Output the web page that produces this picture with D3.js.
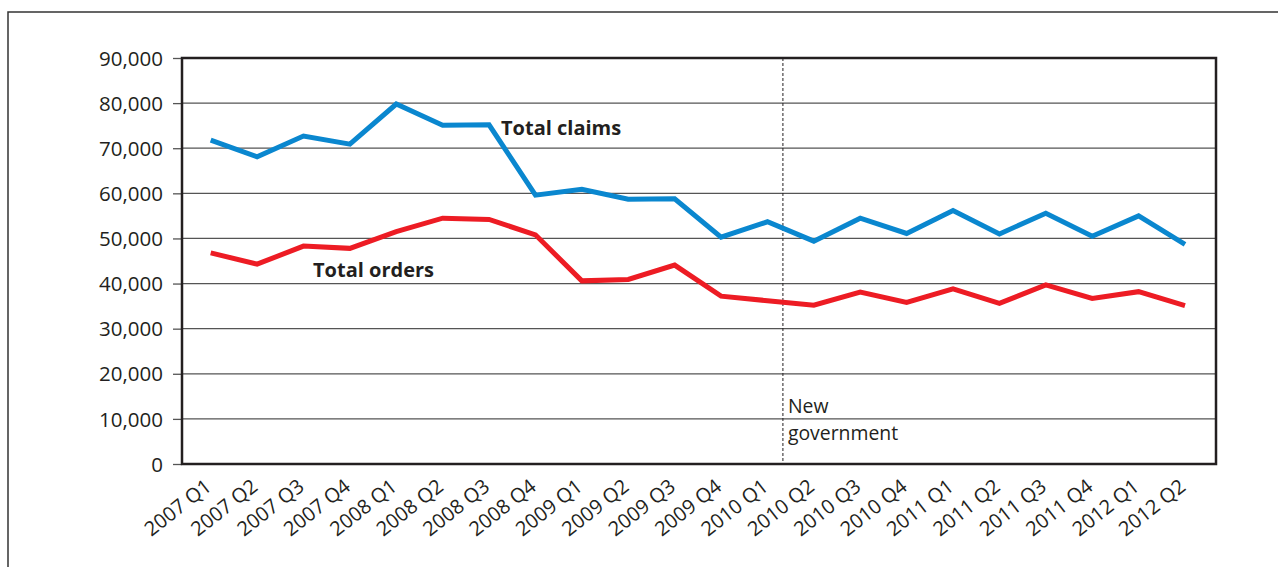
<!DOCTYPE html>
<html lang="en">
<head>
    <meta charset="UTF-8">
    <title>Total claims and orders</title>
    <script src="https://cdn.jsdelivr.net/npm/d3@7/dist/d3.min.js"></script>
    <style>
        body { margin: 0; background: #fff; }
        svg { width: 1278px; height: 567px; display: block; }
        text { font-family: "Open Sans", sans-serif; fill: #231f20; }
    </style>
</head>
<body>
    <svg></svg>

    <script>
        const quarters = [
            '2007 Q1', '2007 Q2', '2007 Q3', '2007 Q4',
            '2008 Q1', '2008 Q2', '2008 Q3', '2008 Q4',
            '2009 Q1', '2009 Q2', '2009 Q3', '2009 Q4',
            '2010 Q1', '2010 Q2', '2010 Q3', '2010 Q4',
            '2011 Q1', '2011 Q2', '2011 Q3', '2011 Q4',
            '2012 Q1', '2012 Q2'
        ];
        const totalClaims = [
            71800, 68100, 72700, 70900,
            79800, 75100, 75200, 59600,
            60900, 58700, 58800, 50300,
            53700, 49400, 54500, 51100,
            56200, 51000, 55600, 50500,
            55000, 48700
        ];
        const totalOrders = [
            46800, 44300, 48300, 47800,
            51500, 54500, 54200, 50800,
            40600, 40900, 44100, 37200,
            36200, 35200, 38100, 35800,
            38800, 35600, 39700, 36700,
            38200, 35100
        ];
        const yTicks = [0, 10000, 20000, 30000, 40000, 50000, 60000, 70000, 80000, 90000];

        const svg = d3.select('svg');

        // outer frame, runs off the picture on the right and bottom
        svg.append('rect')
            .attr('x', 8).attr('y', 12)
            .attr('width', 1300).attr('height', 600)
            .attr('fill', 'none')
            .attr('stroke', '#333')
            .attr('stroke-width', 1.5);

        const plot = { left: 182, right: 1216, top: 58, bottom: 464 };

        const x = d3.scalePoint()
            .domain(quarters)
            .range([plot.left + 28.7, plot.right - 31]);

        const y = d3.scaleLinear()
            .domain([0, 90000])
            .range([plot.bottom, plot.top]);

        // gridlines
        svg.append('g')
            .selectAll('line')
            .data(yTicks.slice(1))
            .enter().append('line')
            .attr('x1', plot.left).attr('x2', plot.right)
            .attr('y1', d => y(d)).attr('y2', d => y(d))
            .attr('stroke', '#555')
            .attr('stroke-width', 1.3);

        // y axis
        const yAxis = svg.append('g')
            .attr('transform', `translate(${plot.left}, 0)`)
            .call(d3.axisLeft(y).tickValues(yTicks).tickFormat(d3.format(',')).tickSize(9).tickPadding(10));
        yAxis.select('.domain').remove();
        yAxis.selectAll('.tick line').attr('stroke', '#555').attr('stroke-width', 1.3);
        yAxis.selectAll('.tick text')
            .style('font-size', '20.5px')
            .attr('fill', '#231f20')
            .attr('dy', '0.35em');

        // x labels
        svg.append('g')
            .selectAll('text')
            .data(quarters)
            .enter().append('text')
            .attr('text-anchor', 'end')
            .style('font-size', '20px')
            .attr('transform', d => `translate(${x(d) + 2}, 489) rotate(-38)`)
            .text(d => d);

        // new government marker
        const govX = x(quarters[12]) + x.step() / 3;
        svg.append('line')
            .attr('x1', govX).attr('x2', govX)
            .attr('y1', plot.top).attr('y2', plot.bottom)
            .attr('stroke', '#231f20')
            .attr('stroke-width', 1)
            .attr('stroke-dasharray', '3,2');
        svg.append('text')
            .attr('x', govX + 5).attr('y', 413)
            .style('font-size', '19.4px')
            .text('New');
        svg.append('text')
            .attr('x', govX + 5).attr('y', 440)
            .style('font-size', '19.4px')
            .text('government');

        // plot border
        svg.append('rect')
            .attr('x', plot.left).attr('y', plot.top)
            .attr('width', plot.right - plot.left).attr('height', plot.bottom - plot.top)
            .attr('fill', 'none')
            .attr('stroke', '#231f20')
            .attr('stroke-width', 2.5);

        const line = d3.line()
            .x((d, i) => x(quarters[i]))
            .y(d => y(d));

        svg.append('path')
            .datum(totalOrders)
            .attr('d', line)
            .attr('fill', 'none')
            .attr('stroke', '#ed1c24')
            .attr('stroke-width', 5);

        svg.append('path')
            .datum(totalClaims)
            .attr('d', line)
            .attr('fill', 'none')
            .attr('stroke', '#0a87cf')
            .attr('stroke-width', 5);

        svg.append('text')
            .attr('x', 501).attr('y', 135)
            .style('font-size', '20px')
            .style('font-weight', 'bold')
            .text('Total claims');
        svg.append('text')
            .attr('x', 313).attr('y', 277)
            .style('font-size', '20px')
            .style('font-weight', 'bold')
            .text('Total orders');
    </script>
</body>
</html>
